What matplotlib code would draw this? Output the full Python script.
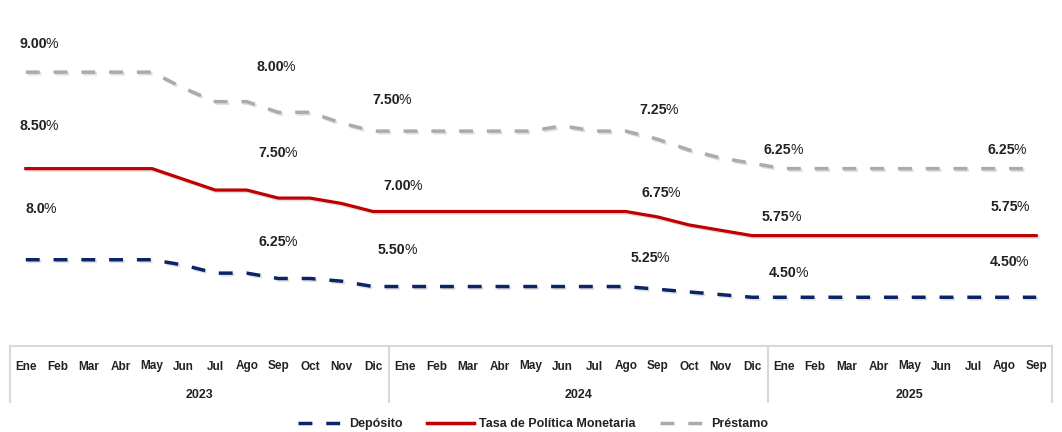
import numpy as np
import matplotlib
matplotlib.use("Agg")
import matplotlib.pyplot as plt
import matplotlib.patheffects as pe
from matplotlib.lines import Line2D

plt.rcParams['font.family'] = ['Liberation Sans', 'DejaVu Sans']

# months Ene 2023 .. Sep 2025
months = ['Ene', 'Feb', 'Mar', 'Abr', 'May', 'Jun', 'Jul', 'Ago', 'Sep', 'Oct', 'Nov', 'Dic',
          'Ene', 'Feb', 'Mar', 'Abr', 'May', 'Jun', 'Jul', 'Ago', 'Sep', 'Oct', 'Nov', 'Dic',
          'Ene', 'Feb', 'Mar', 'Abr', 'May', 'Jun', 'Jul', 'Ago', 'Sep']
years = ['2023', '2024', '2025']
year_len = [12, 12, 9]

# stacked line chart in the original: each series sits on top of the previous one
deposito = [8.00, 8.00, 8.00, 8.00, 8.00, 7.50, 6.75, 6.75, 6.25, 6.25, 6.00, 5.50,
            5.50, 5.50, 5.50, 5.50, 5.50, 5.50, 5.50, 5.50, 5.25, 5.00, 4.75, 4.50,
            4.50, 4.50, 4.50, 4.50, 4.50, 4.50, 4.50, 4.50, 4.50]
tpm = [8.50, 8.50, 8.50, 8.50, 8.50, 8.00, 7.75, 7.75, 7.50, 7.50, 7.25, 7.00,
       7.00, 7.00, 7.00, 7.00, 7.00, 7.00, 7.00, 7.00, 6.75, 6.25, 6.00, 5.75,
       5.75, 5.75, 5.75, 5.75, 5.75, 5.75, 5.75, 5.75, 5.75]
prestamo = [9.00, 9.00, 9.00, 9.00, 9.00, 8.50, 8.25, 8.25, 8.00, 8.00, 7.50, 7.50,
            7.50, 7.50, 7.50, 7.50, 7.50, 8.00, 7.50, 7.50, 7.25, 7.00, 6.75, 6.75,
            6.25, 6.25, 6.25, 6.25, 6.25, 6.25, 6.25, 6.25, 6.25]

# data labels shown in the chart
label_idx = [0, 8, 12, 20, 24, 32]
deposito_labels = ['8.0', '6.25', '5.50', '5.25', '4.50', '4.50']
tpm_labels = ['8.50', '7.50', '7.00', '6.75', '5.75', '5.75']
prestamo_labels = ['9.00', '8.00', '7.50', '7.25', '6.25', '6.25']

# label offsets from their point (pixels)
deposito_off = [(15, 51), (2, 37), (-5, 37), (-5, 31), (7, 24), (-25, 35)]
tpm_off = [(15, 43), (2, 45), (0, 25), (6, 24), (0, 19), (-24, 29)]
prestamo_off = [(15, 28), (0, 45), (-11, 31), (4, 29), (2, 19), (-27, 19)]

navy = '#0B2468'
red = '#C00000'
gray = '#ABABAB'
txt = '#222222'

x = np.arange(len(months))
d = np.array(deposito)
dt = d + np.array(tpm)
dtp = dt + np.array(prestamo)

fig = plt.figure(figsize=(10.62, 4.32), dpi=100)
ax = fig.add_axes([10 / 1062, 86.5 / 432, 1042 / 1062, 345.5 / 432])
ax.set_xlim(-0.5, len(months) - 0.5)
ax.set_ylim(0, 345.5 / 10.72)

shadow = [pe.SimpleLineShadow(offset=(1.2, -1.2), alpha=0.12, shadow_color='black'), pe.Normal()]

ax.plot(x, d, color=navy, lw=2.5, linestyle=(0, (4, 4)), path_effects=shadow)
ax.plot(x, dt, color=red, lw=2.3, solid_joinstyle='round', path_effects=shadow)
ax.plot(x, dtp, color=gray, lw=2.5, linestyle=(0, (4, 4)), path_effects=shadow)


def put_labels(ys, labels, offs):
    for i, lab, (dx, dy) in zip(label_idx, labels, offs):
        shift = 6 if len(lab) == 4 else 4
        t = ax.annotate(lab, (x[i], ys[i]), xytext=(dx + shift, dy), textcoords='offset pixels',
                        ha='right', va='center', fontsize=10.2, fontweight='bold', color=txt,
                        annotation_clip=False)
        ax.annotate('%', xy=(1, 0), xycoords=t, xytext=(-1.5, 0), textcoords='offset pixels',
                    ha='left', va='bottom', fontsize=10.2, color=txt)


put_labels(dtp, prestamo_labels, prestamo_off)
put_labels(dt, tpm_labels, tpm_off)
put_labels(d, deposito_labels, deposito_off)

for s in ['top', 'right', 'left']:
    ax.spines[s].set_visible(False)
ax.spines['bottom'].set_color('#D9D9D9')
ax.spines['bottom'].set_linewidth(1.5)
ax.set_yticks([])
ax.set_xticks([])

# multi-level category axis
tr = ax.get_xaxis_transform()
for i, m in enumerate(months):
    ax.text(i, -24 / 345.5, m, transform=tr, ha='center', va='baseline',
            fontsize=8.5, fontweight='bold', color=txt)

start = -0.5
edges = [start]
for yr, n in zip(years, year_len):
    ax.text(start + n / 2, -52 / 345.5, yr, transform=tr, ha='center', va='baseline',
            fontsize=9, fontweight='bold', color=txt)
    start += n
    edges.append(start)
for e in edges:
    ax.plot([e, e], [0, -56 / 345.5], transform=tr, color='#D9D9D9', lw=1.5, clip_on=False)

handles = [Line2D([], [], color=navy, lw=2.5, linestyle=(0, (4, 4))),
           Line2D([], [], color=red, lw=2.5),
           Line2D([], [], color=gray, lw=2.5, linestyle=(0, (4, 4)))]
fig.legend(handles, ['Depósito', 'Tasa de Política Monetaria', 'Préstamo'],
           loc='center', bbox_to_anchor=(0.502, 8 / 432), ncol=3, frameon=False,
           prop={'size': 9, 'weight': 'bold'}, handlelength=3.7, handletextpad=0.4,
           columnspacing=2.0, labelcolor=txt)

fig.savefig('out.png', dpi=100)
